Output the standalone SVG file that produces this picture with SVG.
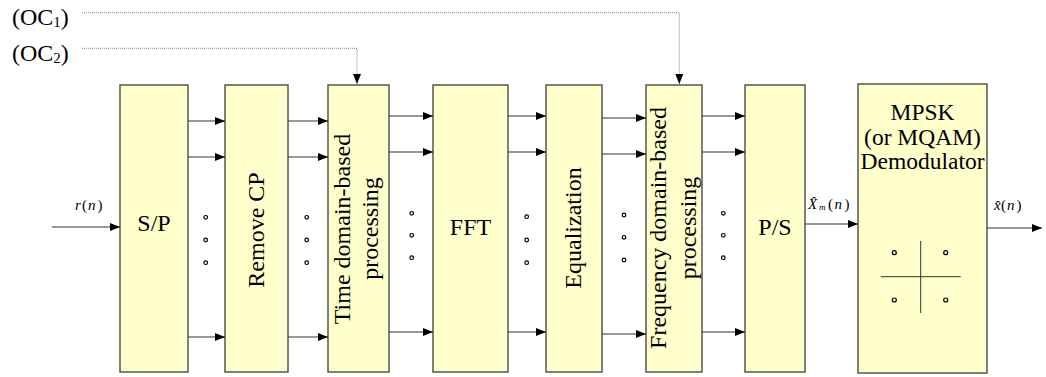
<svg xmlns="http://www.w3.org/2000/svg" width="1046" height="377" viewBox="0 0 1046 377">
<defs>
<marker id="ah" markerUnits="userSpaceOnUse" markerWidth="10" markerHeight="8" refX="10" refY="4" orient="auto">
<path d="M0,0 L10,4 L0,8 z" fill="#000"/>
</marker>
<style>
.box{fill:#FFFFCC;stroke:#4a4a4a;stroke-width:1.4}
.t{fill:#000;text-anchor:middle}
.s{fill:#000}
.c{stroke:#333;stroke-width:1.1;fill:none;marker-end:url(#ah)}
.d{stroke:#888;stroke-width:1;stroke-dasharray:1,1;fill:none;marker-end:url(#ah)}
.dot{fill:none;stroke:#000;stroke-width:1.2}
</style>
</defs>
<rect width="1046" height="377" fill="#fff"/>

<g font-family="Liberation Serif, Times New Roman, serif" font-size="24">
<g id="oc1"><text x="12" y="25">(OC<tspan font-size="15" dy="2">1</tspan><tspan dy="-2">)</tspan></text></g>
<g id="oc2"><text x="12" y="60.5">(OC<tspan font-size="15" dy="2">2</tspan><tspan dy="-2">)</tspan></text></g>

<g id="sp"><rect class="box" x="120" y="85" width="68" height="287"/><text class="t" x="154" y="231">S/P</text></g>
<g id="rcp"><rect class="box" x="225" y="85" width="63" height="287"/><text class="t" transform="translate(263.5,230) rotate(-90)">Remove CP</text></g>
<g id="tdp"><rect class="box" x="328" y="85" width="61" height="287"/>
<text class="t" transform="translate(350,229) rotate(-90)">Time domain-based</text>
<text class="t" transform="translate(377.5,228.5) rotate(-90)">processing</text></g>
<g id="fft"><rect class="box" x="433" y="85" width="75" height="287"/><text class="t" x="470.5" y="235">FFT</text></g>
<g id="eq"><rect class="box" x="546" y="85" width="56" height="287"/><text class="t" transform="translate(580.5,228) rotate(-90)">Equalization</text></g>
<g id="fdp"><rect class="box" x="646" y="85" width="56" height="287"/>
<text class="t" transform="translate(666,228) rotate(-90)">Frequency domain-based</text>
<text class="t" transform="translate(696,228) rotate(-90)">processing</text></g>
<g id="ps"><rect class="box" x="745" y="85" width="60" height="287"/><text class="t" x="775" y="235">P/S</text></g>
<g id="demod"><rect class="box" x="858" y="84" width="129" height="289"/>
<text class="t" x="922.5" y="120" font-size="23.5">MPSK</text>
<text class="t" x="922.5" y="144.5" font-size="23.5">(or MQAM)</text>
<text class="t" x="922.5" y="169" font-size="23.5">Demodulator</text>
<line x1="920.7" y1="241" x2="920.7" y2="313" stroke="#333" stroke-width="1"/>
<line x1="880.7" y1="276.7" x2="960.7" y2="276.7" stroke="#333" stroke-width="1"/>
<circle class="dot" cx="894.3" cy="252.7" r="2"/><circle class="dot" cx="945.7" cy="252.7" r="2"/>
<circle class="dot" cx="894.3" cy="300" r="2"/><circle class="dot" cx="945.7" cy="300" r="2"/>
</g>
</g>

<g id="connectors">
<path class="d" d="M82,12.7 H679.3 V84"/>
<path class="d" d="M82,48.3 H357 V84"/>
<line class="c" x1="52" y1="227" x2="120" y2="227"/>
<line class="c" x1="188" y1="121" x2="225" y2="121"/>
<line class="c" x1="188" y1="157" x2="225" y2="157"/>
<line class="c" x1="188" y1="337" x2="225" y2="337"/>
<line class="c" x1="288" y1="121" x2="328" y2="121"/>
<line class="c" x1="288" y1="157" x2="328" y2="157"/>
<line class="c" x1="288" y1="337" x2="328" y2="337"/>
<line class="c" x1="389" y1="116" x2="433" y2="116"/>
<line class="c" x1="389" y1="152" x2="433" y2="152"/>
<line class="c" x1="389" y1="332" x2="433" y2="332"/>
<line class="c" x1="508" y1="116" x2="546" y2="116"/>
<line class="c" x1="508" y1="152" x2="546" y2="152"/>
<line class="c" x1="508" y1="332" x2="546" y2="332"/>
<line class="c" x1="602" y1="118" x2="646" y2="118"/>
<line class="c" x1="602" y1="154" x2="646" y2="154"/>
<line class="c" x1="602" y1="334" x2="646" y2="334"/>
<line class="c" x1="702" y1="116" x2="745" y2="116"/>
<line class="c" x1="702" y1="152" x2="745" y2="152"/>
<line class="c" x1="702" y1="332" x2="745" y2="332"/>
<line class="c" x1="805" y1="224" x2="858" y2="224"/>
<line class="c" x1="987" y1="228" x2="1042" y2="228"/>
</g>

<g id="dots">
<circle class="dot" cx="205.7" cy="217.3" r="1.8"/><circle class="dot" cx="205.7" cy="240" r="1.8"/><circle class="dot" cx="205.7" cy="262.7" r="1.8"/>
<circle class="dot" cx="306.7" cy="217.3" r="1.8"/><circle class="dot" cx="306.7" cy="240" r="1.8"/><circle class="dot" cx="306.7" cy="262.7" r="1.8"/>
<circle class="dot" cx="411.7" cy="213.3" r="1.8"/><circle class="dot" cx="411.7" cy="235.3" r="1.8"/><circle class="dot" cx="411.7" cy="257.7" r="1.8"/>
<circle class="dot" cx="526.7" cy="216.7" r="1.8"/><circle class="dot" cx="526.7" cy="240" r="1.8"/><circle class="dot" cx="526.7" cy="262.7" r="1.8"/>
<circle class="dot" cx="624" cy="215" r="1.8"/><circle class="dot" cx="624" cy="237.3" r="1.8"/><circle class="dot" cx="624" cy="260" r="1.8"/>
<circle class="dot" cx="723.3" cy="213.3" r="1.8"/><circle class="dot" cx="723.3" cy="235.3" r="1.8"/><circle class="dot" cx="723.3" cy="257.7" r="1.8"/>
</g>

<g id="labels" font-family="Liberation Serif, Times New Roman, serif" font-size="15">
<text class="s" y="210"><tspan x="75" font-style="italic">r</tspan><tspan x="82">(</tspan><tspan x="88" font-style="italic">n</tspan><tspan x="97.5">)</tspan></text>
<text class="s" y="209"><tspan x="808" font-style="italic">X&#x302;</tspan><tspan x="819" font-style="italic" font-size="9" dy="1">m</tspan><tspan x="828" dy="-1">(</tspan><tspan x="834.5" font-style="italic">n</tspan><tspan x="844.5">)</tspan></text>
<text class="s" y="210"><tspan x="994" font-style="italic">x&#x302;</tspan><tspan x="1001">(</tspan><tspan x="1007" font-style="italic">n</tspan><tspan x="1016.5">)</tspan></text>
</g>
</svg>
